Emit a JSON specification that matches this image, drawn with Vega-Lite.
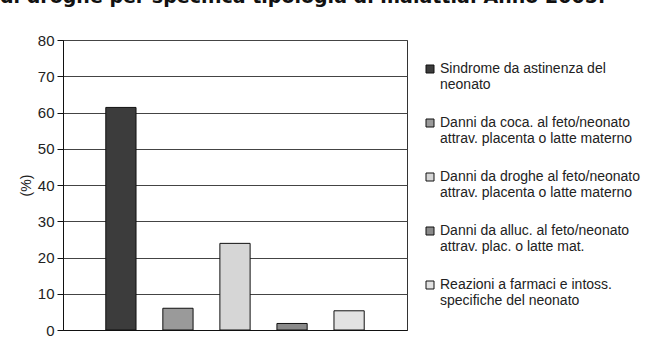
{
  "$schema": "https://vega.github.io/schema/vega-lite/v6.json",
  "width": 344,
  "height": 290,
  "autosize": "none",
  "padding": {"left": 63, "top": 40, "right": 253, "bottom": 22},
  "background": "white",
  "title": {
    "text": "di droghe per specifica tipologia di malattia. Anno 2005.",
    "anchor": "start",
    "frame": "group",
    "font": "DejaVu Sans",
    "fontSize": 19,
    "fontWeight": "bold",
    "color": "#111111",
    "dx": -63,
    "offset": 26
  },
  "data": {
    "values": [
      {"cat": "Sindrome da astinenza del neonato", "pct": 61.4},
      {"cat": "Danni da coca. al feto/neonato attrav. placenta o latte materno", "pct": 6.0},
      {"cat": "Danni da droghe al feto/neonato attrav. placenta o latte materno", "pct": 23.9},
      {"cat": "Danni da alluc. al feto/neonato attrav. plac. o latte mat.", "pct": 1.8},
      {"cat": "Reazioni a farmaci e intoss. specifiche del neonato", "pct": 5.3}
    ]
  },
  "mark": {"type": "bar", "stroke": "#111111", "strokeWidth": 1},
  "encoding": {
    "x": {
      "field": "cat",
      "type": "nominal",
      "sort": null,
      "scale": {"paddingInner": 0.47, "paddingOuter": 0.75},
      "axis": {"labels": false, "ticks": false, "title": null, "domainColor": "#111111", "domainWidth": 1}
    },
    "y": {
      "field": "pct",
      "type": "quantitative",
      "scale": {"domain": [0, 80], "nice": false},
      "axis": {
        "values": [0, 10, 20, 30, 40, 50, 60, 70, 80],
        "title": "(%)",
        "titleFont": "Liberation Sans",
        "titleFontSize": 14,
        "titleFontWeight": "normal",
        "titleColor": "#222222",
        "titlePadding": 4,
        "labelFont": "Liberation Sans",
        "labelFontSize": 15,
        "labelColor": "#222222",
        "labelPadding": 3,
        "tickColor": "#111111",
        "tickSize": 6,
        "domainColor": "#111111",
        "gridColor": "#444444",
        "gridWidth": 1
      }
    },
    "color": {
      "field": "cat",
      "type": "nominal",
      "sort": null,
      "scale": {
        "domain": [
          "Sindrome da astinenza del neonato",
          "Danni da coca. al feto/neonato attrav. placenta o latte materno",
          "Danni da droghe al feto/neonato attrav. placenta o latte materno",
          "Danni da alluc. al feto/neonato attrav. plac. o latte mat.",
          "Reazioni a farmaci e intoss. specifiche del neonato"
        ],
        "range": ["#3c3c3c", "#9a9a9a", "#d6d6d6", "#8a8a8a", "#e2e2e2"]
      },
      "legend": {
        "title": null,
        "orient": "none",
        "legendX": 360,
        "legendY": 22,
        "symbolType": "square",
        "symbolSize": 64,
        "symbolStrokeColor": "#111111",
        "symbolStrokeWidth": 1,
        "labelFont": "Liberation Sans",
        "labelFontSize": 14,
        "labelColor": "#222222",
        "labelOffset": 3,
        "labelLimit": 300,
        "rowPadding": 24,
        "labelExpr": "datum.label == 'Sindrome da astinenza del neonato' ? ['Sindrome da astinenza del', 'neonato'] : datum.label == 'Danni da coca. al feto/neonato attrav. placenta o latte materno' ? ['Danni da coca. al feto/neonato', 'attrav. placenta o latte materno'] : datum.label == 'Danni da droghe al feto/neonato attrav. placenta o latte materno' ? ['Danni da droghe al feto/neonato', 'attrav. placenta o latte materno'] : datum.label == 'Danni da alluc. al feto/neonato attrav. plac. o latte mat.' ? ['Danni da alluc. al feto/neonato', 'attrav. plac. o latte mat.'] : ['Reazioni a farmaci e intoss.', 'specifiche del neonato']"
      }
    }
  },
  "config": {
    "view": {"stroke": "#333333", "strokeWidth": 1}
  }
}
